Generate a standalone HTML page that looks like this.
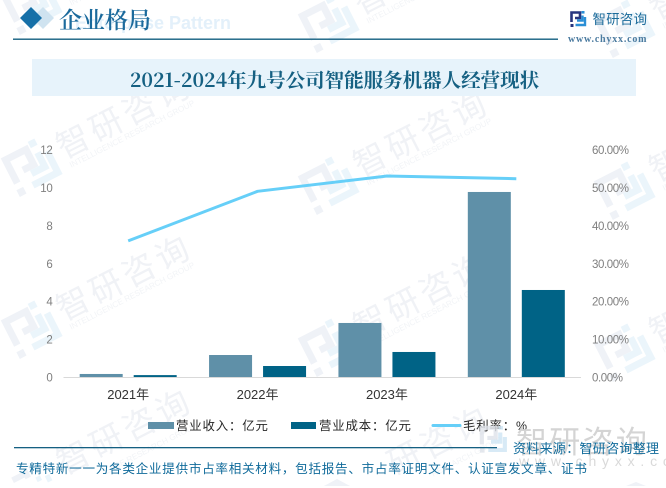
<!DOCTYPE html>
<html lang="zh">
<head>
<meta charset="utf-8">
<title>2021-2024年九号公司智能服务机器人经营现状</title>
<style>
html,body{margin:0;padding:0;background:#fff;width:666px;height:488px;overflow:hidden;}
#stage{display:block;width:666px;height:488px;overflow:hidden;}
.sans{font-family:"Liberation Sans","Noto Sans CJK SC",sans-serif;}
.serif{font-family:"Liberation Serif","Noto Serif CJK SC",serif;}
.cjkserif{font-family:"Noto Serif CJK SC","Liberation Serif",serif;}
</style>
</head>
<body>
<svg id="stage" xmlns="http://www.w3.org/2000/svg" width="666" height="488" viewBox="0 0 666 488">
  <rect width="666" height="488" fill="#fff"/>
  <g id="watermarks"></g>

  <g>
    <text x="231" y="29" text-anchor="end" class="sans" font-size="18" font-weight="700" fill="#e3f0fa">Enterprise Pattern</text>
    <path d="M43 7 L54 18 L43 29 L32 18Z" fill="#cfe3f0"/>
    <path d="M31 7 L42 18 L31 29 L20 18Z" fill="#1670a8"/>
    <text x="59" y="28" class="cjkserif" font-size="23" font-weight="600" fill="#1b6a9c">企业格局</text>
    <rect x="13" y="38.5" width="545" height="1.4" fill="#156082"/>
  </g>

  <g>
    <g transform="translate(570,11)">
      <path d="M1.5 11V1.5H10V7H5" fill="none" stroke="#27357f" stroke-width="2.6"/>
      <rect x="0.5" y="13" width="3" height="3" fill="#27357f"/>
      <path d="M12.5 4.5V9.5H7M5.5 14H15V6" fill="none" stroke="#2a8fd6" stroke-width="2.4"/>
      <rect x="11.5" y="0" width="3" height="2.6" fill="#2a8fd6"/>
    </g>
    <text x="592.5" y="24" class="sans" font-size="13.4" letter-spacing="0.3" fill="#1a6a9a">智研咨询</text>
    <text x="568" y="42" class="serif" font-size="10" font-weight="700" letter-spacing="0.8" fill="#4a7a9f">www.chyxx.com</text>
  </g>

  <rect x="32" y="59" width="604" height="37" fill="#e7f3fb"/>
  <text x="334.5" y="87" text-anchor="middle" class="cjkserif" font-size="19.5" font-weight="700" fill="#156082">2021-2024年九号公司智能服务机器人经营现状</text>

  <g id="plot"></g>

  <g>
    <g>
      <rect x="148" y="422" width="26" height="7" fill="#5f90a8"/>
      <text x="176" y="430" class="sans" font-size="12.4" letter-spacing="0.85" fill="#262626">营业收入：亿元</text>
    </g>
    <g>
      <rect x="291" y="422" width="25" height="7" fill="#006386"/>
      <text x="319" y="430" class="sans" font-size="12.4" letter-spacing="0.85" fill="#262626">营业成本：亿元</text>
    </g>
    <g>
      <line x1="433" y1="425.5" x2="460" y2="425.5" stroke="#66cff8" stroke-width="3" stroke-linecap="round"/>
      <text x="463" y="430" class="sans" font-size="12.4" letter-spacing="0.85" fill="#262626">毛利率：%</text>
    </g>
  </g>

  <g>
    <g transform="translate(480,426) scale(0.92)" opacity="0.8">
      <path d="M2 20V2H17V13H8" fill="none" stroke="#dfe3ea" stroke-width="4.5"/>
      <rect x="0" y="24" width="5" height="5" fill="#dfe3ea"/>
      <path d="M22 7V17H12M9 26H27V12" fill="none" stroke="#cfe5f4" stroke-width="4.5"/>
      <rect x="20" y="0" width="5" height="4" fill="#cfe5f4"/>
    </g>
    <text x="516" y="453" class="sans" font-size="31" letter-spacing="2.3" fill="#d4d4d4">智研咨询</text>
    <text x="519" y="466" class="sans" font-size="14" letter-spacing="5.8" fill="#d9d9d9">www.chyxx.com</text>
  </g>

  <rect x="14" y="447" width="483" height="1.3" fill="#156082"/>
  <text x="513" y="453" class="sans" font-size="13" letter-spacing="0.3" fill="#0f6a9a">资料来源：智研咨询整理</text>
  <text x="16" y="473" class="sans" font-size="12.6" letter-spacing="0.7" fill="#0f6a9a">专精特新一一为各类企业提供市占率相关材料，包括报告、市占率证明文件、认证宣发文章、证书</text>
</svg>
<script>
const categories = ['2021年', '2022年', '2023年', '2024年'];
const revenue = [0.16, 1.16, 2.85, 9.76];
const cost = [0.1, 0.58, 1.32, 4.59];
const margin = [35.9, 48.97, 53.0, 52.3];
const leftTicks = [0, 2, 4, 6, 8, 10, 12];
const rightTicks = [0, 10, 20, 30, 40, 50, 60];

const SVGNS = 'http://www.w3.org/2000/svg';
const plot = document.getElementById('plot');
const wm = document.getElementById('watermarks');
const plotLeft = 63.5, plotRight = 581, plotBase = 377, plotTop = 149.5;
const leftMax = 12, rightMax = 60;
const barW = 43, barGap = 11;
function xCenter(i){ return plotLeft + (plotRight - plotLeft) * (i + 0.5) / categories.length; }
function yLeft(v){ return plotBase - (plotBase - plotTop) * v / leftMax; }
function yRight(v){ return plotBase - (plotBase - plotTop) * v / rightMax; }
function mk(tag, attrs, parent){
  const el = document.createElementNS(SVGNS, tag);
  for (const k in attrs) el.setAttribute(k, attrs[k]);
  parent.appendChild(el);
  return el;
}

/* watermark tiles */
const tileRows = [-27, 135, 297];
const tileCols = [[0, 0], [297, 18], [593, 23]];
tileRows.forEach(function(ry){
  tileCols.forEach(function(c){
    const g = mk('g', {transform: 'translate(' + (c[0] + 31) + ',' + (ry + c[1] + 31) + ') rotate(-27)'}, wm);
    
    
    mk('path', {d: 'M-20 9V-17H3V0H-9', fill: 'none', stroke: '#eff2f7', 'stroke-width': 7}, g);
    mk('rect', {x: -24, y: 15, width: 7.5, height: 7.5, fill: '#eff2f7'}, g);
    mk('path', {d: 'M12 -9V7H-3M-7 18H21V-6', fill: 'none', stroke: '#ebf5fb', 'stroke-width': 7}, g);
    mk('rect', {x: 8, y: -23, width: 7.5, height: 7, fill: '#ebf5fb'}, g);
    const t1 = mk('text', {x: 32, y: 9, 'font-size': 33, 'letter-spacing': 4, fill: '#f0f2f6', 'class': 'sans'}, g);
    t1.textContent = '智研咨询';
    const t2 = mk('text', {x: 35, y: 20, 'font-size': 8.2, fill: '#f2f4f7', 'class': 'sans'}, g);
    t2.textContent = 'INTELLIGENCE RESEARCH GROUP';
  });
});

/* bottom row of watermark: separately rotated pieces that stay inside the frame */
const rotLeft = 'translate(31,490) rotate(-27)';
const rotMiddle = 'translate(328,508) rotate(-27)';
mk('path', {transform: rotLeft, d: 'M-12 -17H3V-12', fill: 'none', stroke: '#eff2f7', 'stroke-width': 6}, wm);
mk('path', {transform: rotLeft, d: 'M12 -9V-4M21 -6V1', fill: 'none', stroke: '#ebf5fb', 'stroke-width': 5}, wm);
mk('rect', {transform: rotLeft, x: 8, y: -23, width: 7.5, height: 7, fill: '#ebf5fb'}, wm);
const bottomNameLeft = mk('text', {transform: rotLeft, x: 36, y: 2, 'font-size': 33, 'letter-spacing': 4, fill: '#f0f2f6', 'class': 'sans'}, wm);


bottomNameLeft.textContent = '智研咨询';
const bottomEnLeft = mk('text', {transform: rotLeft, x: 74, y: 20, 'font-size': 8.2, fill: '#f2f4f7', 'class': 'sans'}, wm);


bottomEnLeft.textContent = 'ENCE RESEARCH GROUP';
const bottomNameMiddle = mk('text', {transform: rotMiddle, x: 74, y: 2, 'font-size': 33, 'letter-spacing': 4, fill: '#f0f2f6', 'class': 'sans'}, wm);


bottomNameMiddle.textContent = '研咨询';
const bottomEnMiddle = mk('text', {transform: rotMiddle, x: 108, y: 20, 'font-size': 8.2, fill: '#f2f4f7', 'class': 'sans'}, wm);


bottomEnMiddle.textContent = 'RESEARCH GROUP';

const apexMiddle = mk('polygon', {points: '337,479 324,486 350,486', fill: '#eff2f7'}, wm);


const apexRight = mk('polygon', {points: '636,482 626,486 646,486', fill: '#eff2f7'}, wm);



/* bars */
categories.forEach(function(cat, i){
  const cx = xCenter(i);
  const r = mk('rect', {x: cx - barGap / 2 - barW, y: yLeft(revenue[i]), width: barW, height: plotBase - yLeft(revenue[i]), fill: '#5f90a8'}, plot);
  
  
  const b = mk('rect', {x: cx + barGap / 2, y: yLeft(cost[i]), width: barW, height: plotBase - yLeft(cost[i]), fill: '#006386'}, plot);
  
  
  const lbl = mk('text', {x: cx, y: 399, 'text-anchor': 'middle', 'font-size': 13, fill: '#333', 'class': 'sans'}, plot);
  
  
  lbl.textContent = cat;
});

/* axis line */
const axis = mk('line', {x1: plotLeft, x2: plotRight, y1: plotBase + 0.5, y2: plotBase + 0.5, stroke: '#d9d9d9', 'stroke-width': 1}, plot);



/* tick labels */
leftTicks.forEach(function(v){
  const t = mk('text', {x: 52.5, y: yLeft(v) + 4.5, 'text-anchor': 'end', 'font-size': 11.5, 'letter-spacing': -0.3, fill: '#7f7f7f', 'class': 'sans'}, plot);
  
  
  t.textContent = v;
});
rightTicks.forEach(function(v){
  const t = mk('text', {x: 592, y: yRight(v) + 4.5, 'font-size': 11.5, 'letter-spacing': -0.4, fill: '#7f7f7f', 'class': 'sans'}, plot);
  
  
  t.textContent = v.toFixed(2) + '%';
});

/* margin line */
const pts = margin.map(function(v, i){ return xCenter(i) + ',' + yRight(v); }).join(' ');
const line = mk('polyline', {points: pts, fill: 'none', stroke: '#66cff8', 'stroke-width': 3, 'stroke-linejoin': 'round'}, plot);


</script>
</body>
</html>
